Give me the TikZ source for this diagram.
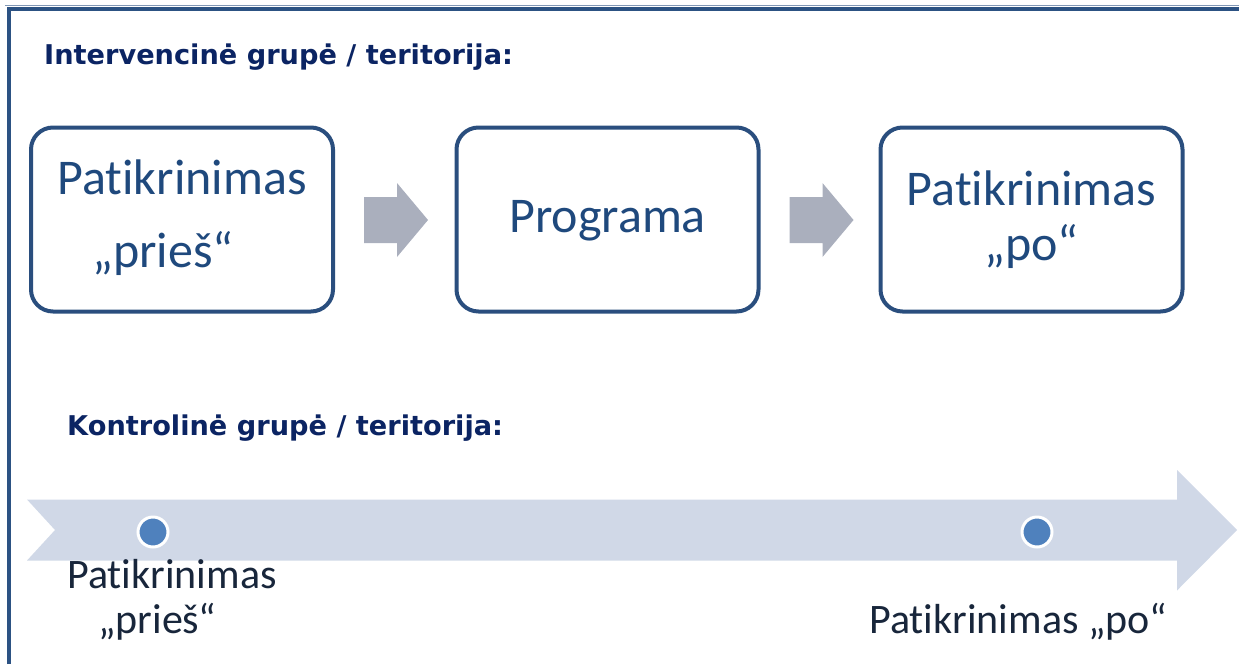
\documentclass[tikz,border=0pt]{standalone}
\usepackage{fontspec}
\setmainfont{Carlito}[Ligatures=NoCommon]
\newfontfamily\headfont{DejaVu Sans}
\usetikzlibrary{positioning}
\definecolor{frameblue}{HTML}{2C5283}
\definecolor{headnavy}{HTML}{0B2463}
\definecolor{boxline}{HTML}{2A4E7E}
\definecolor{boxtext}{HTML}{1F497D}
\definecolor{greyarrow}{HTML}{AAAFBD}
\definecolor{bigarrow}{HTML}{D0D8E7}
\definecolor{dotblue}{HTML}{4F81BD}
\definecolor{labeltext}{HTML}{18263B}
\tikzset{
  heading/.style={anchor=base west, inner sep=0pt, text=headnavy, font=\headfont\bfseries\fontsize{27.2}{32}\selectfont},
  stagebox/.style={draw=boxline, line width=4pt, rounded corners=22pt, minimum width=302pt, minimum height=184pt, inner sep=0pt},
  boxlabel/.style={inner sep=0pt, text=boxtext, font=\fontsize{50}{60}\selectfont},
  flowarrow/.style={fill=greyarrow, draw=none},
  timeline/.style={fill=bigarrow, draw=none},
  milestone/.style={circle, fill=dotblue, draw=white, line width=3pt, minimum size=30pt, inner sep=0pt},
  steplabel/.style={inner sep=0pt, text=labeltext, font=\fontsize{42}{50}\selectfont},
}
\begin{document}
\begin{tikzpicture}[x=1pt, y=-1pt]
\useasboundingbox (0,0) rectangle (1239,664);
% frame
\draw[frameblue!60, line width=1pt] (5,5.5) -- (1239,5.5);
\draw[frameblue, line width=4pt] (9,664) -- (9,9) -- (1239,9);

% headings
\node[heading] (h1) at (44,64) {Intervencinė grupė / teritorija:};
\node[heading] (h2) at (67,435) {Kontrolinė grupė / teritorija:};

% boxes
\node[stagebox] (b1) at (182,219.5) {};
\node[stagebox] (b2) at (607.5,219.5) {};
\node[stagebox] (b3) at (1031.5,219.5) {};

\node[boxlabel, anchor=base] (b1a) at (182,194) {Patikrinimas};
\node[boxlabel, anchor=base west] (b1b) at (92,267) {„prieš“};
\node[boxlabel, anchor=base] (b2a) at (607.5,232) {Programa};
\node[boxlabel, anchor=base] (b3a) at (1031.5,205) {Patikrinimas};
\node[boxlabel, anchor=base] (b3b) at (1031.5,260) {„po“};

% grey arrows between boxes
\fill[flowarrow] ([xshift=29pt]b1.east |- 0,197) -- ++(33,0) -- ++(0,-14) -- ++(31,37) -- ++(-31,37) -- ++(0,-14) -- ++(-33,0) -- cycle;
\fill[flowarrow] ([xshift=29pt]b2.east |- 0,197) -- ++(33,0) -- ++(0,-14) -- ++(31,37) -- ++(-31,37) -- ++(0,-14) -- ++(-33,0) -- cycle;

% timeline arrow
\fill[timeline] (27,499.5) -- (1177,499.5) -- (1177,470) -- (1237,530) -- (1177,590.5) -- (1177,560.5) -- (27,560.5) -- (55,530) -- cycle;

\node[milestone] (m1) at (153,532) {};
\node[milestone] (m2) at (1037,532) {};

\node[steplabel, anchor=base west] (l1a) at (67,588) {Patikrinimas};
\node[steplabel, anchor=base west] (l1b) at (98,633) {„prieš“};
\node[steplabel, anchor=base west] (l2) at (869,633) {Patikrinimas „po“};
\end{tikzpicture}
\end{document}
